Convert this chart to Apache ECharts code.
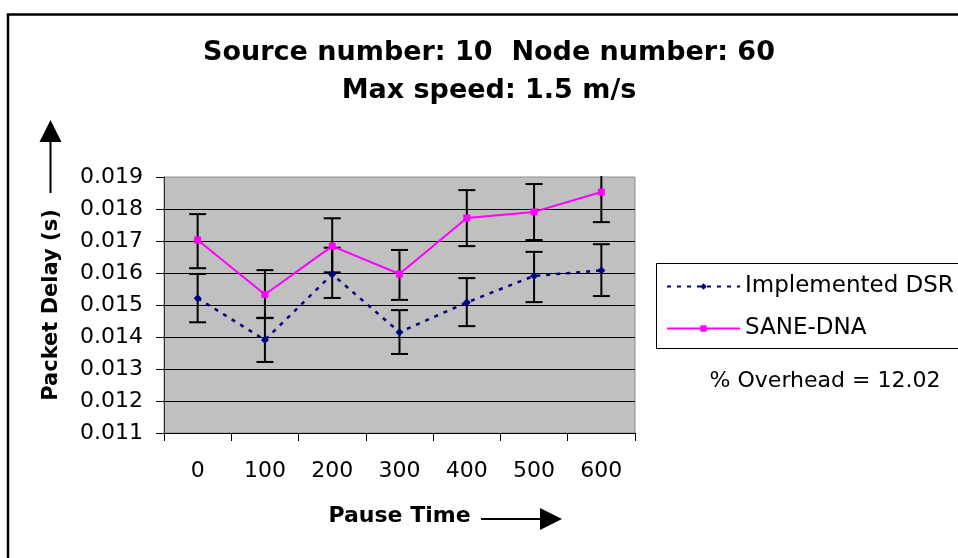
<!DOCTYPE html>
<html>
<head>
<meta charset="utf-8">
<script src="https://cdn.jsdelivr.net/npm/echarts@6/dist/echarts.min.js"></script>
<style>
  html, body { margin: 0; padding: 0; background: #ffffff; }
  #chart { width: 958px; height: 558px; }
</style>
</head>
<body>
<div id="chart"></div>
<script>
// Pause time (s) on the x axis
const pauseTimes = ['0', '100', '200', '300', '400', '500', '600'];

// Mean packet delay (s) with error-bar bounds, Implemented DSR
const dsrDelay = [0.01521, 0.01391, 0.01596, 0.01415, 0.01508, 0.01591, 0.01608];
const dsrLow   = [0.01446, 0.01322, 0.01522, 0.01347, 0.01434, 0.01509, 0.01528];
const dsrHigh  = [0.01597, 0.01460, 0.01679, 0.01484, 0.01584, 0.01666, 0.01690];

// Mean packet delay (s) with error-bar bounds, SANE-DNA
const saneDelay = [0.01703, 0.01533, 0.01684, 0.01597, 0.01772, 0.01791, 0.01853];
const saneLow   = [0.01615, 0.01459, 0.01602, 0.01516, 0.01684, 0.01703, 0.01759];
const saneHigh  = [0.01784, 0.01609, 0.01771, 0.01672, 0.01859, 0.01878, 0.01947];

// Delay axis range
const yMin = 0.011;
const yMax = 0.019;
const yStep = 0.001;

const FONT = 'DejaVu Sans';

function barData(low, high) {
  return low.map((v, i) => [i, v, high[i]]);
}

// Vertical error bar with caps, trimmed at the top of the plot area
function renderErrorBar(params, api) {
  const i = api.value(0);
  const lo = api.coord([i, api.value(1)]);
  const hi = api.coord([i, api.value(2)]);
  const cs = params.coordSys;
  const half = 8.5;
  const style = { stroke: '#000000', lineWidth: 2 };
  let yTop = hi[1];
  let topCap = true;
  if (yTop < cs.y - 1) { yTop = cs.y - 1; topCap = false; }
  const children = [
    { type: 'line', shape: { x1: lo[0], y1: lo[1], x2: lo[0], y2: yTop }, style },
    { type: 'line', shape: { x1: lo[0] - half, y1: lo[1], x2: lo[0] + half, y2: lo[1] }, style }
  ];
  if (topCap) {
    children.push({ type: 'line', shape: { x1: hi[0] - half, y1: yTop, x2: hi[0] + half, y2: yTop }, style });
  }
  return { type: 'group', children };
}

const chart = echarts.init(document.getElementById('chart'), null, { renderer: 'canvas' });

chart.setOption({
  backgroundColor: '#ffffff',
  animation: false,
  title: {
    text: 'Source number: 10  Node number: 60\nMax speed: 1.5 m/s',
    left: 489,
    top: 34,
    padding: 0,
    textAlign: 'center',
    textStyle: { fontFamily: FONT, fontSize: 27, fontWeight: 'bold', color: '#000000', lineHeight: 38 }
  },
  legend: {
    orient: 'vertical',
    left: 666,
    top: 275,
    padding: 0,
    itemWidth: 73,
    itemHeight: 8,
    itemGap: 19,
    data: ['Implemented DSR', 'SANE-DNA'],
    textStyle: { fontFamily: FONT, fontSize: 23, color: '#000000' }
  },
  grid: {
    left: 164,
    top: 177,
    right: 323,
    bottom: 125,
    show: true,
    backgroundColor: '#c0c0c0',
    borderColor: '#8c8c8c',
    borderWidth: 1
  },
  xAxis: {
    type: 'category',
    data: pauseTimes,
    boundaryGap: true,
    name: 'Pause Time',
    nameLocation: 'middle',
    nameGap: 72,
    nameTextStyle: { fontFamily: FONT, fontSize: 22, fontWeight: 'bold', color: '#000000' },
    axisLine: { lineStyle: { color: '#000000', width: 1 } },
    axisTick: { show: true, length: 8, alignWithLabel: false, lineStyle: { color: '#000000' } },
    axisLabel: { fontFamily: FONT, fontSize: 22, color: '#000000', margin: 27 },
    splitLine: { show: false }
  },
  yAxis: {
    type: 'value',
    min: yMin,
    max: yMax,
    interval: yStep,
    name: 'Packet Delay (s)',
    nameLocation: 'middle',
    nameRotate: 90,
    nameGap: 102,
    nameTextStyle: { fontFamily: FONT, fontSize: 21, fontWeight: 'bold', color: '#000000' },
    axisLine: { show: true, lineStyle: { color: '#333333', width: 1 } },
    axisTick: { show: true, length: 8, lineStyle: { color: '#000000' } },
    axisLabel: {
      fontFamily: FONT, fontSize: 22, color: '#000000', margin: 21,
      formatter: v => v.toFixed(3)
    },
    splitLine: { show: true, showMaxLine: false, showMinLine: false, lineStyle: { color: '#000000', width: 1 } }
  },
  series: [
    {
      name: 'DSR error',
      type: 'custom',
      renderItem: renderErrorBar,
      encode: { x: 0, y: [1, 2] },
      data: barData(dsrLow, dsrHigh),
      z: 2,
      silent: true
    },
    {
      name: 'SANE error',
      type: 'custom',
      renderItem: renderErrorBar,
      encode: { x: 0, y: [1, 2] },
      data: barData(saneLow, saneHigh),
      z: 2,
      silent: true
    },
    {
      name: 'Implemented DSR',
      type: 'line',
      data: dsrDelay,
      symbol: 'diamond',
      symbolSize: 8,
      itemStyle: { color: '#000080' },
      lineStyle: { color: '#000080', width: 2.5, type: [4, 6] },
      z: 3
    },
    {
      name: 'SANE-DNA',
      type: 'line',
      data: saneDelay,
      symbol: 'rect',
      symbolSize: 7,
      itemStyle: { color: '#ff00ff' },
      lineStyle: { color: '#ff00ff', width: 2 },
      z: 4
    }
  ],
  graphic: [
    // outer frame of the chart area
    { type: 'rect', shape: { x: 8, y: 14.5, width: 1000, height: 1000 },
      style: { fill: null, stroke: '#000000', lineWidth: 2.5 }, silent: true },
    // legend frame
    { type: 'rect', shape: { x: 656.5, y: 263.5, width: 400, height: 85 },
      style: { fill: null, stroke: '#000000', lineWidth: 1 }, silent: true },
    // overhead note
    { type: 'text', x: 825, y: 381,
      style: { text: '% Overhead = 12.02', fontFamily: FONT, fontSize: 22, fill: '#000000',
               align: 'center', verticalAlign: 'middle' }, silent: true },
    // arrow next to the delay axis title
    { type: 'line', shape: { x1: 50.5, y1: 193, x2: 50.5, y2: 138 },
      style: { stroke: '#000000', lineWidth: 2 }, silent: true },
    { type: 'polygon', shape: { points: [[50.5, 120], [39.5, 142], [61.5, 142]] },
      style: { fill: '#000000' }, silent: true },
    // arrow next to the pause time title
    { type: 'line', shape: { x1: 481, y1: 519, x2: 544, y2: 519 },
      style: { stroke: '#000000', lineWidth: 2 }, silent: true },
    { type: 'polygon', shape: { points: [[562, 519], [540, 508], [540, 530]] },
      style: { fill: '#000000' }, silent: true }
  ]
});
</script>
</body>
</html>
